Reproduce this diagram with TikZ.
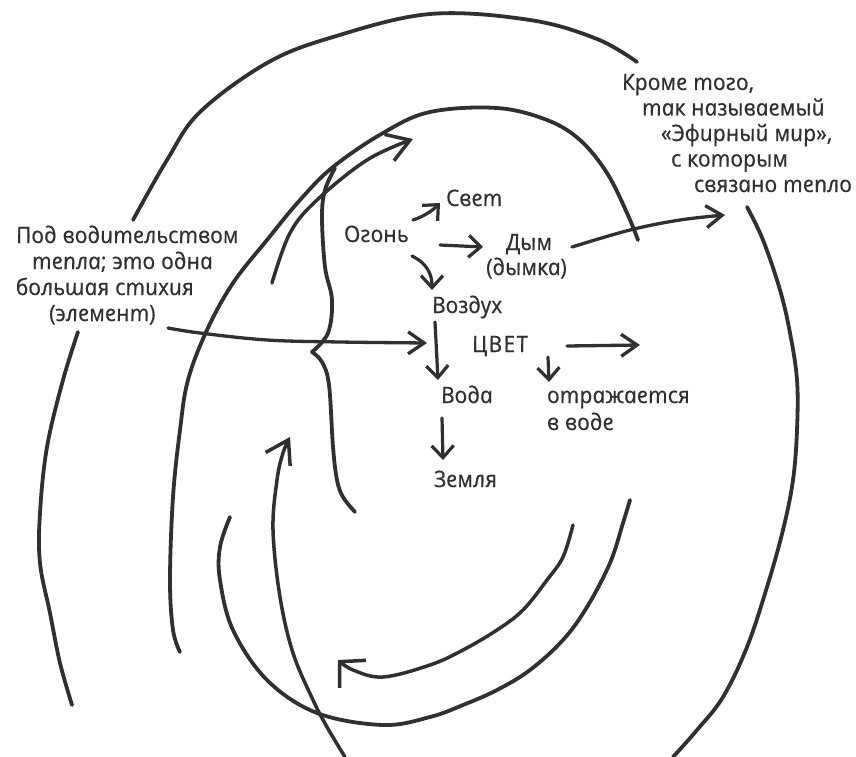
\documentclass[tikz,border=0pt]{standalone}
\usepackage{fontspec}
\setmainfont{Open Sans}[ItalicFeatures={FakeSlant=-0.2,FakeBold=0.5}]
\usetikzlibrary{arrows.meta}
\definecolor{ink}{HTML}{303030}
\begin{document}
\begin{tikzpicture}[x=1pt,y=-1pt,line cap=round,line join=round,
  stroke/.style={draw=ink,line width=3.8pt},
  arr/.style={draw=ink,line width=3.2pt,-{Straight Barb[length=12pt,width=22pt]}},
  midarr/.style={draw=ink,line width=3.3pt,-{Straight Barb[length=16pt,width=22pt]}},
  bigarr/.style={draw=ink,line width=3.5pt,-{Straight Barb[length=22pt,width=28pt]}},
  widearr/.style={draw=ink,line width=3.5pt,-{Straight Barb[length=18pt,width=38pt]}},
  lbl/.style={anchor=base west,inner sep=0pt,text=ink,font=\itshape\fontsize{22.6}{26}\selectfont}]
\useasboundingbox (0,0) rectangle (856,757);
\fill[white] (0,0) rectangle (856,757);

% ---- texts
\node[lbl] (l1) at (17,243) {Под водительством};
\node[lbl] (l2) at (33,269) {тепла; это одна};
\node[lbl] (l3) at (17,295) {большая стихия};
\node[lbl] (l4) at (50,321) {(элемент)};

\node[lbl] (r1) at (623,90) {Кроме того,};
\node[lbl] (r2) at (643,115.5) {так называемый};
\node[lbl] (r3) at (662,141) {«Эфирный мир»,};
\node[lbl] (r4) at (672,166.5) {с которым};
\node[lbl] (r5) at (695,192) {связано тепло};

\node[lbl] (ogon) at (345,242) {Огонь};
\node[lbl] (svet) at (447,206) {Свет};
\node[lbl] (dym) at (507,250) {Дым};
\node[lbl] (dymka) at (487,275) {(дымка)};
\node[lbl] (vozd) at (433,313) {Воздух};
\node[lbl,font=\itshape\fontsize{22.6}{26}\selectfont\addfontfeature{LetterSpace=6}] (cvet) at (473,352) {ЦВЕТ};
\node[lbl] (voda) at (442,403) {Вода};
\node[lbl] (zeml) at (435,487) {Земля};
\node[lbl] (otr) at (548,403) {отражается};
\node[lbl] (vvode) at (548,430) {в воде};

% ---- big arcs
\draw[stroke] plot[smooth,tension=0.6] coordinates {(133,220) (167,160) (200,112) (267,63) (333,37) (430,14) (530,20) (597,39) (637,62)};
\draw[stroke] plot[smooth,tension=0.6] coordinates {(180,652) (173,630) (170,580) (173,497) (180,430) (188,380) (207,330) (233,283) (267,240) (300,200) (333,167) (383,133) (430,112) (497,108) (547,120) (580,140) (607,173) (627,213) (638,240)};
\draw[stroke] plot[smooth,tension=0.6] coordinates {(78,332) (63,380) (47,447) (40,513) (40,563) (50,613) (60,663) (72,705)};
\draw[stroke] plot[smooth,tension=0.6] coordinates {(747,207) (763,240) (780,290) (790,333) (797,380) (797,430) (793,480) (783,530) (767,587) (747,647) (723,697) (697,730) (673,757)};
\draw[stroke] plot[smooth,tension=0.6] coordinates {(630,500) (623,523) (610,563) (587,607) (563,640) (530,670) (497,690) (463,705) (430,717) (383,725) (317,713) (267,680) (233,630) (220,580) (220,547) (230,517)};

% brace
\draw[stroke] plot[smooth,tension=0.6] coordinates {(335,168) (325,190) (322,217) (325,267) (332,300) (328,333) (312,352)};
\draw[stroke] plot[smooth,tension=0.6] coordinates {(312,352) (322,362) (329,385) (333,447) (337,480) (343,497) (355,512)};

% ---- long arrows
\draw[bigarr] plot[smooth,tension=0.6] coordinates {(272,283) (290,233) (317,200) (367,160) (413,139)};
\draw[midarr] plot[smooth,tension=0.6] coordinates {(168,328) (200,333) (267,340) (340,342) (427,343)};
\draw[midarr] plot[smooth,tension=0.6] coordinates {(572,247) (630,230) (680,220) (725,215)};
\draw[widearr] plot[smooth,tension=0.6] coordinates {(573,525) (563,557) (547,580) (523,610) (497,630) (463,650) (430,665) (383,677) (353,670) (338,660)};
\draw[bigarr] plot[smooth,tension=0.6] coordinates {(345,757) (327,727) (313,700) (293,653) (280,597) (273,530) (277,480) (283,453) (290,437)};

% ---- small arrows
\draw[arr] (413,220) .. controls (425,216) and (433,210) .. (440,203);
\draw[arr] (440,245) -- (483,247);
\draw[arr] (412,256) .. controls (428,264) and (432,275) .. (432,290);
\draw[arr] (435,322) -- (438,380);
\draw[arr] (442,418) -- (443,460);
\draw[midarr] (567,346) -- (640,345);
\draw[arr] (548,357) -- (549,382);
\end{tikzpicture}
\end{document}
